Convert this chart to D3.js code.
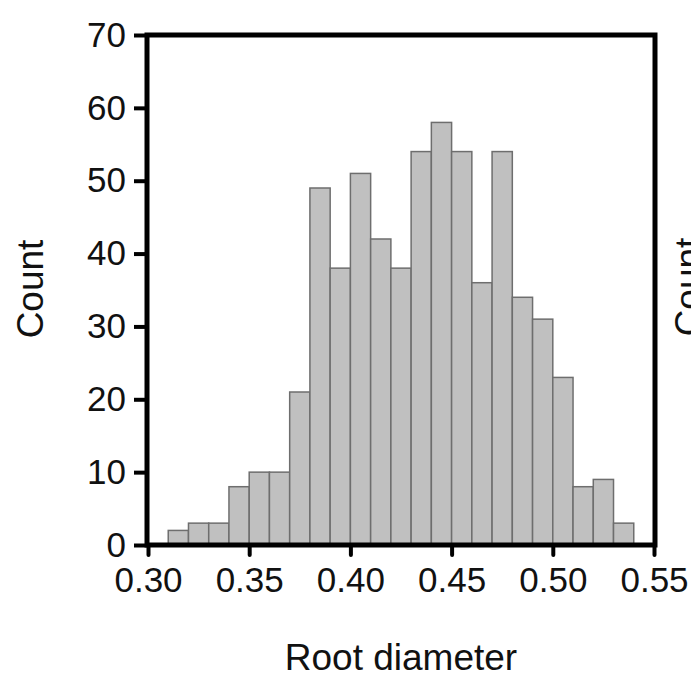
<!DOCTYPE html>
<html>
<head>
<meta charset="utf-8">
<script src="https://cdn.jsdelivr.net/npm/d3@7"></script>
<style>
  html, body { margin: 0; padding: 0; background: #fff; }
  svg { display: block; }
  text { font-family: "Liberation Sans", Arial, sans-serif; fill: #111; }
</style>
</head>
<body>
<svg id="chart" width="691" height="685"></svg>
<script>
// Histogram bins (left edges) and counts
const binStarts = [0.31,0.32,0.33,0.34,0.35,0.36,0.37,0.38,0.39,0.40,0.41,0.42,0.43,0.44,0.45,0.46,0.47,0.48,0.49,0.50,0.51,0.52,0.53];
const binWidth = 0.01;
const counts = [2,3,3,8,10,10,21,49,38,51,42,38,54,58,54,36,54,34,31,23,8,9,3];
const xTicks = [0.30,0.35,0.40,0.45,0.50,0.55];
const yTicks = [0,10,20,30,40,50,60,70];
const xLabel = "Root diameter";
const yLabel = "Count";

const svg = d3.select("#chart");
const mLeft = 147, mRight = 655, mTop = 35, mBottom = 545;

const x = d3.scaleLinear().domain([0.30, 0.55]).range([148, 654]);
const y = d3.scaleLinear().domain([0, 70]).range([mBottom, mTop]);

// bars
svg.append("g").selectAll("rect")
  .data(binStarts.map((s, i) => ({s, c: counts[i]})))
  .join("rect")
  .attr("x", d => x(d.s))
  .attr("width", d => x(d.s + binWidth) - x(d.s))
  .attr("y", d => y(d.c))
  .attr("height", d => y(0) - y(d.c))
  .attr("fill", "#c0c0c0")
  .attr("stroke", "#6e6e6e")
  .attr("stroke-width", 1.5);

// frame
svg.append("rect")
  .attr("x", mLeft).attr("y", mTop)
  .attr("width", mRight - mLeft).attr("height", mBottom - mTop)
  .attr("fill", "none").attr("stroke", "#000").attr("stroke-width", 5);

// y axis
const yAxis = d3.axisLeft(y).tickValues(yTicks).tickSize(13).tickPadding(8).tickFormat(d3.format("d"));
const gy = svg.append("g").attr("transform", `translate(${mLeft},0)`).call(yAxis);
gy.select(".domain").remove();
gy.selectAll(".tick line").attr("stroke", "#000").attr("stroke-width", 4);
gy.selectAll(".tick text").attr("font-size", 35).attr("fill", "#111")
  .style("font-family", "'Liberation Sans', Arial, sans-serif");

// x axis
const xAxis = d3.axisBottom(x).tickValues(xTicks).tickSize(10).tickPadding(12).tickFormat(d3.format(".2f"));
const gx = svg.append("g").attr("transform", `translate(0,${mBottom})`).call(xAxis);
gx.select(".domain").remove();
gx.selectAll(".tick line").attr("stroke", "#000").attr("stroke-width", 4).attr("stroke-linecap", "round");
gx.selectAll(".tick text").attr("font-size", 35).attr("fill", "#111")
  .style("font-family", "'Liberation Sans', Arial, sans-serif");

// axis titles
svg.append("text")
  .attr("x", 401).attr("y", 670)
  .attr("text-anchor", "middle")
  .attr("font-size", 37)
  .text(xLabel);

svg.append("text")
  .attr("transform", "translate(43,289) rotate(-90)")
  .attr("text-anchor", "middle")
  .attr("font-size", 37)
  .text(yLabel);

// partial label of the neighbouring panel (clipped at the edge, as in the reference)
svg.append("text")
  .attr("transform", "translate(701,287) rotate(-90)")
  .attr("text-anchor", "middle")
  .attr("font-size", 37)
  .text(yLabel);
</script>
</body>
</html>
